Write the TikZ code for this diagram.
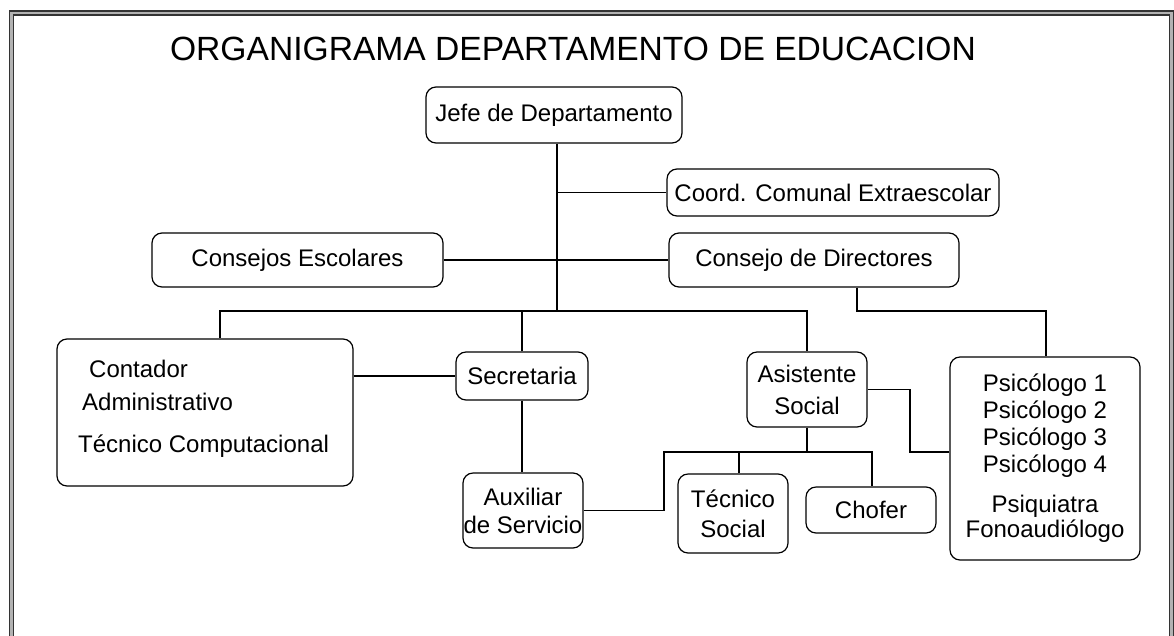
\documentclass[tikz,border=0pt]{standalone}
\usepackage{fontspec}
\setmainfont{Liberation Sans}
\begin{document}
\begin{tikzpicture}[x=1pt,y=-1pt,
  box/.style={draw=black, rounded corners=10pt, line width=1.2pt, inner sep=0pt, align=center,
    font=\fontsize{24}{27}\selectfont},
  conn/.style={line width=1.2pt, black},
  txt/.style={inner sep=0pt, anchor=base west, font=\fontsize{24}{27}\selectfont}]
\useasboundingbox (0,0) rectangle (1174,635);
\clip (0,0) rectangle (1174,635);
% frame
\draw[line width=4pt, gray!60] (11.3,13) rectangle (1171.7,700);
\draw[line width=1.3pt, black!80] (9.3,11) rectangle (1173.6,700);
\draw[line width=1.3pt, black!80] (13.3,15) rectangle (1169.7,700);
% title
\node[inner sep=0pt, anchor=base, font=\fontsize{33.6}{36}\selectfont] (title) at (573,60) {ORGANIGRAMA DEPARTAMENTO DE EDUCACION};
% boxes
\node[box, minimum width=256, minimum height=56] (jefe) at (554,115) {Jefe de Departamento};
\node[box, minimum width=332, minimum height=47] (coord) at (833,192.5) {Coord. Comunal Extraescolar};
\node[box, minimum width=291, minimum height=54] (cesc) at (297.5,260) {Consejos Escolares};
\node[box, minimum width=290, minimum height=54] (cdir) at (814,260) {Consejo de Directores};
\node[box, minimum width=296, minimum height=147] (cont) at (205,412.5) {};
\node[txt] (t1) at (89,377) {Contador};
\node[txt] (t2) at (82,410) {Administrativo};
\node[txt] (t3) at (78,452) {Técnico Computacional};
\node[box, minimum width=132, minimum height=48] (secr) at (522,376) {Secretaria};
\node[box, minimum width=120, minimum height=75] (asis) at (807,389.5) {Asistente\\[5pt]Social};
\node[box, minimum width=190, minimum height=203] (psic) at (1045,458.5)
  {Psicólogo 1\\Psicólogo 2\\Psicólogo 3\\Psicólogo 4\\[13pt]Psiquiatra\\[-2pt]Fonoaudiólogo};
\node[box, minimum width=120, minimum height=75] (aux) at (523,510.5) {Auxiliar\\[1pt]de Servicio};
\node[box, minimum width=110, minimum height=79] (tec) at (733,513.5) {Técnico\\[3pt]Social};
\node[box, minimum width=130, minimum height=46] (chof) at (871,510) {Chofer};
% junction coordinates
\coordinate (bus) at (557,311);
\coordinate (busL) at (220,311);
\coordinate (busR) at (807,311);
\coordinate (cdj) at (857,311);
\coordinate (pj) at (1046,311);
\coordinate (ap) at (910,452);
\coordinate (b2) at (807,452);
\coordinate (b2L) at (664,452);
\coordinate (b2R) at (872,452);
\coordinate (tj) at (739,452);
% connectors
\draw[conn] (jefe.south -| bus) -- (bus);
\draw[conn] (coord.west -| bus) -- (coord.west);
\draw[conn] (cesc.east) -- (cdir.west);
\draw[conn] (cont.north -| busL) -- (busL) -- (busR) -- (asis.north);
\draw[conn] (secr.north) -- (secr.north |- bus);
\draw[conn] (cdir.south -| cdj) -- (cdj) -- (pj) -- (psic.north -| pj);
\draw[conn] (cont.east |- secr.west) -- (secr.west);
\draw[conn] (secr.south) -- (aux.north -| secr.south);
\draw[conn] (asis.east) -| (ap) -- (ap -| psic.west);
\draw[conn] (asis.south) -- (b2);
\draw[conn] (aux.east) -| (b2L) -- (b2R) -- (chof.north -| b2R);
\draw[conn] (tj) -- (tec.north -| tj);
\end{tikzpicture}
\end{document}
